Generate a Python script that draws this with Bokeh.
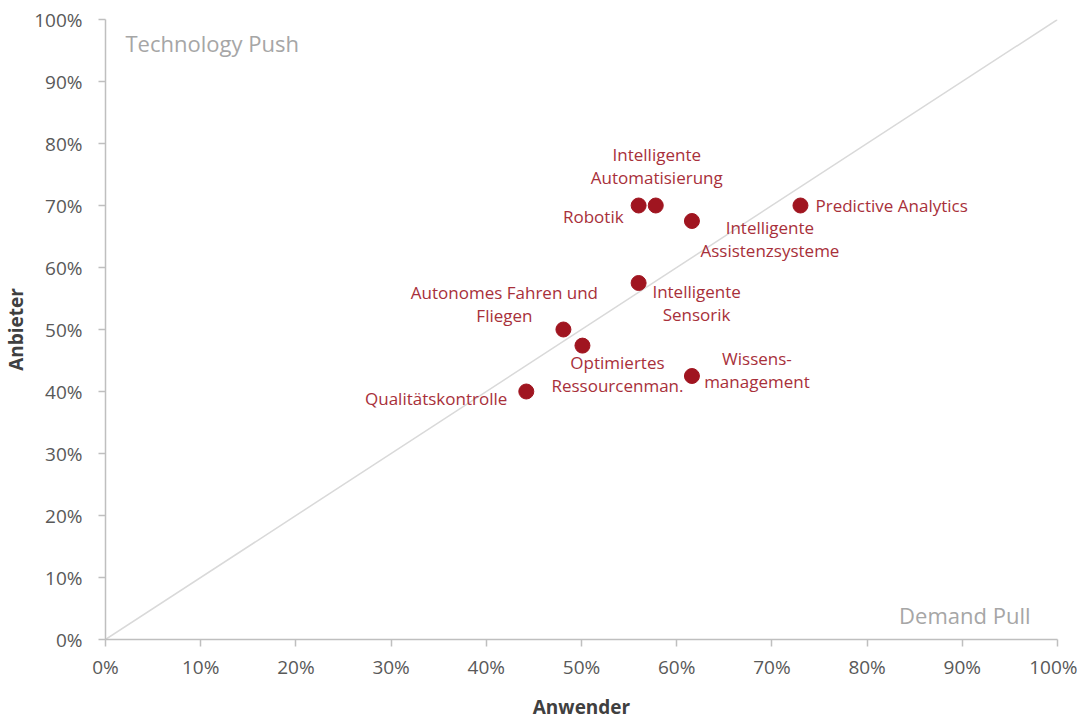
from bokeh.plotting import figure
from bokeh.models import ColumnDataSource, NumeralTickFormatter, FixedTicker, Range1d
from bokeh.core.properties import value
from bokeh.embed import file_html
from bokeh.resources import INLINE

# --- data ---
names = ["Robotik", "Intelligente\nAutomatisierung", "Intelligente\nAssistenzsysteme",
         "Predictive Analytics", "Intelligente\nSensorik", "Autonomes Fahren und\nFliegen",
         "Optimiertes\nRessourcenman.", "Wissens-\nmanagement", "Qualitätskontrolle"]
anwender = [0.56, 0.578, 0.616, 0.73, 0.56, 0.481, 0.501, 0.616, 0.442]
anbieter = [0.70, 0.70, 0.675, 0.70, 0.575, 0.50, 0.474, 0.425, 0.40]
ticks = [0, 0.1, 0.2, 0.3, 0.4, 0.5, 0.6, 0.7, 0.8, 0.9, 1.0]

# label placement (styles)
dx = [-15, 1, 78, 15, 58, -59, 35, 65, -19]
dy = [11, -40, 18, 0, 20, -26, 28, -6, 7]
align = ["right", "center", "center", "left", "center", "center", "center", "center", "right"]

FONT = "Open Sans"
RED = "#A01520"
LBL = "#A8303A"

p = figure(frame_width=952, frame_height=620, output_backend="svg", toolbar_location=None,
           x_range=Range1d(0, 1), y_range=Range1d(0, 1),
           min_border_left=97, min_border_right=20, min_border_top=19, min_border_bottom=62)
p.outline_line_color = None
p.xgrid.grid_line_color = None
p.ygrid.grid_line_color = None
p.background_fill_color = "white"

# diagonal
p.line([0, 1], [0, 1], line_color="#D9D9D9", line_width=1.5)

src = ColumnDataSource(dict(x=anwender, y=anbieter, name=names, dx=dx, dy=dy, align=align))
p.scatter("x", "y", source=src, size=15, fill_color=RED, line_color=RED)
p.text("x", "y", text="name", source=src, x_offset="dx", y_offset="dy",
       text_align="align", text_baseline="middle", text_color=LBL,
       text_font=value(FONT), text_font_size="17px", text_line_height=1.0)

# corner labels
p.text([0], [1], text=["Technology Push"], x_offset=20, y_offset=23,
       text_align="left", text_baseline="middle", text_color="#A6A6A6",
       text_font=value(FONT), text_font_size="22px")
p.text([1], [0], text=["Demand Pull"], x_offset=-27, y_offset=-25,
       text_align="right", text_baseline="middle", text_color="#A6A6A6",
       text_font=value(FONT), text_font_size="22px")

for ax in (p.xaxis, p.yaxis):
    ax.ticker = FixedTicker(ticks=ticks)
    ax.formatter = NumeralTickFormatter(format="0%")
    ax.axis_line_color = "#BFBFBF"
    ax.axis_line_width = 1.5
    ax.major_tick_line_color = "#BFBFBF"
    ax.major_tick_line_width = 1.5
    ax.major_tick_out = 7
    ax.major_tick_in = 0
    ax.minor_tick_line_color = None
    ax.major_label_text_font = FONT
    ax.major_label_text_font_size = "19px"
    ax.major_label_text_color = "#595959"
    ax.axis_label_text_font = FONT
    ax.axis_label_text_font_size = "19px"
    ax.axis_label_text_font_style = "bold"
    ax.axis_label_text_color = "#404040"

p.xaxis.axis_label = "Anwender"
p.yaxis.axis_label = "Anbieter"
p.xaxis.major_label_standoff = 7
p.yaxis.major_label_standoff = 16
p.xaxis.axis_label_standoff = 11
p.yaxis.axis_label_standoff = 2

open("out.html", "w").write(file_html(p, INLINE))
